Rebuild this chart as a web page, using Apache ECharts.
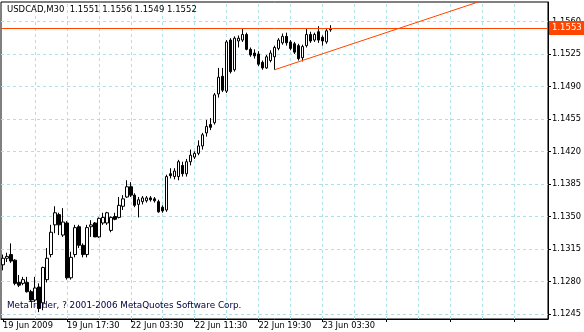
<!DOCTYPE html>
<html><head><meta charset="utf-8">
<script src="https://cdn.jsdelivr.net/npm/echarts@6/dist/echarts.min.js"></script>
<style>html,body{margin:0;padding:0;background:#fff}#c{width:584px;height:332px}</style>
</head><body><div id="c"></div>
<script>
const symbolTitle = 'USDCAD,M30  1.1551 1.1556 1.1549 1.1552';
const copyright = 'MetaTrader, ? 2001-2006 MetaQuotes Software Corp.';
const tickLabels = ['19 Jun 2009','19 Jun 17:30','22 Jun 03:30','22 Jun 11:30','22 Jun 19:30','23 Jun 03:30'];
const tickEvery = 16;
const gridEvery = 8;
const slotCount = 137;
const yTicks = [1.1245,1.1280,1.1315,1.1350,1.1385,1.1420,1.1455,1.1490,1.1525,1.1560];
const yMin = 1.12396, yMax = 1.1581;
const opens  = [1.1298,1.1305,1.1309,1.1303,1.1279,1.1278,1.1279,1.1269,1.1260,1.1274,1.1257,1.1282,1.1309,1.1341,1.1352,1.1330,1.1343,1.1284,1.1309,1.1339,1.1319,1.1309,1.1339,1.1343,1.1328,1.1343,1.1343,1.1335,1.1350,1.1349,1.1361,1.1371,1.1382,1.1373,1.1363,1.1366,1.1367,1.1370,1.1369,1.1366,1.1360,1.1357,1.1396,1.1393,1.1393,1.1405,1.1396,1.1409,1.1414,1.1418,1.1426,1.1440,1.1449,1.1451,1.1482,1.1501,1.1485,1.1540,1.1508,1.1539,1.1540,1.1546,1.1530,1.1526,1.1525,1.1516,1.1510,1.1518,1.1522,1.1531,1.1537,1.1544,1.1538,1.1536,1.1534,1.1521,1.1534,1.1546,1.1540,1.1549,1.1543,1.1538,1.1551];
const closes = [1.1305,1.1307,1.1302,1.1278,1.1276,1.1282,1.1269,1.1260,1.1273,1.1251,1.1295,1.1305,1.1333,1.1354,1.1341,1.1344,1.1284,1.1306,1.1338,1.1319,1.1309,1.1338,1.1341,1.1328,1.1348,1.1349,1.1354,1.1349,1.1347,1.1362,1.1369,1.1382,1.1373,1.1362,1.1368,1.1370,1.1370,1.1368,1.1367,1.1355,1.1356,1.1393,1.1394,1.1399,1.1409,1.1396,1.1409,1.1416,1.1418,1.1426,1.1438,1.1447,1.1446,1.1481,1.1500,1.1486,1.1538,1.1506,1.1542,1.1542,1.1546,1.1530,1.1524,1.1523,1.1514,1.1510,1.1522,1.1526,1.1532,1.1540,1.1544,1.1537,1.1531,1.1527,1.1520,1.1533,1.1546,1.1539,1.1546,1.1540,1.1539,1.1550,1.1552];
const lows   = [1.1292,1.1301,1.1300,1.1276,1.1274,1.1276,1.1268,1.1258,1.1258,1.1247,1.1249,1.1279,1.1306,1.1332,1.1330,1.1328,1.1282,1.1282,1.1306,1.1316,1.1306,1.1306,1.1328,1.1328,1.1327,1.1341,1.1341,1.1333,1.1346,1.1348,1.1357,1.1370,1.1371,1.1360,1.1349,1.1363,1.1365,1.1366,1.1365,1.1354,1.1354,1.1355,1.1391,1.1390,1.1389,1.1393,1.1393,1.1405,1.1412,1.1416,1.1422,1.1436,1.1443,1.1449,1.1478,1.1484,1.1483,1.1504,1.1506,1.1532,1.1538,1.1529,1.1522,1.1520,1.1512,1.1508,1.1509,1.1516,1.1508,1.1529,1.1535,1.1534,1.1529,1.1525,1.1518,1.1517,1.1532,1.1537,1.1538,1.1537,1.1534,1.1536,1.1549];
const highs  = [1.1309,1.1311,1.1321,1.1304,1.1287,1.1285,1.1285,1.1271,1.1285,1.1278,1.1296,1.1316,1.1341,1.1361,1.1354,1.1359,1.1345,1.1312,1.1341,1.1341,1.1321,1.1341,1.1346,1.1344,1.1349,1.1354,1.1355,1.1350,1.1354,1.1371,1.1373,1.1389,1.1387,1.1375,1.1371,1.1372,1.1372,1.1372,1.1371,1.1368,1.1362,1.1395,1.1402,1.1402,1.1411,1.1409,1.1412,1.1422,1.1420,1.1432,1.1440,1.1454,1.1456,1.1483,1.1510,1.1510,1.1540,1.1542,1.1544,1.1545,1.1553,1.1548,1.1532,1.1530,1.1528,1.1518,1.1524,1.1529,1.1534,1.1542,1.1547,1.1548,1.1540,1.1538,1.1536,1.1535,1.1553,1.1549,1.1548,1.1555,1.1545,1.1553,1.1556];
const priceLine = 1.1553;
const trendFrom = [68, 1.1508];
const trendTo = [119, 1.1581];

const FONT = 'DejaVu Sans';
const categories = Array.from({length: slotCount}, (_, i) => String(i));
const candles = opens.map((o, i) => [o, closes[i], lows[i], highs[i]]);
const gridColor = '#b0e0e6';
const vLines = [];
for (let i = gridEvery; i < slotCount - 4; i += gridEvery) vLines.push({xAxis: String(i)});
const hLines = yTicks.map(v => ({yAxis: v}));

const chart = echarts.init(document.getElementById('c'), null, {renderer: 'canvas'});
chart.setOption({
  animation: false,
  backgroundColor: '#ffffff',
  title: [
    {text: symbolTitle, left: 7, top: 5, padding: 0,
     textStyle: {fontFamily: FONT, fontSize: 8.5, fontWeight: 'normal', color: '#000000'}},
    {text: copyright, left: 7, top: 301, padding: 0,
     textStyle: {fontFamily: FONT, fontSize: 8.8, fontWeight: 'normal', color: '#000040'}}
  ],
  grid: {left: 1, right: 35, top: 2, bottom: 13, show: true, borderColor: '#000', borderWidth: 1, backgroundColor: 'transparent'},
  xAxis: {
    type: 'category', data: categories, boundaryGap: true,
    axisLine: {show: true, lineStyle: {color: '#000'}},
    axisTick: {show: true, alignWithLabel: true, length: 3, interval: (i) => i % tickEvery === 0, lineStyle: {color: '#000'}},
    axisLabel: {show: true, interval: (i) => i % tickEvery === 0 && (i / tickEvery) < tickLabels.length,
      formatter: (v, i) => tickLabels[i / tickEvery] || '', align: 'left', margin: 3,
      fontFamily: FONT, fontSize: 8.3, color: '#000'},
    splitLine: {show: false}
  },
  yAxis: {
    type: 'value', position: 'right', min: yMin, max: yMax, scale: true,
    axisLine: {show: true, lineStyle: {color: '#000'}},
    axisTick: {show: true, length: 3, customValues: yTicks, lineStyle: {color: '#000'}},
    axisLabel: {show: true, customValues: yTicks, formatter: v => v.toFixed(4), margin: 4,
      fontFamily: FONT, fontSize: 8.3, color: '#000'},
    splitLine: {show: false}
  },
  series: [
    {type: 'line', name: 'grid', data: [], silent: true, z: 1,
     markLine: {silent: true, symbol: 'none', z: 1, animation: false, precision: 6,
       label: {show: false},
       lineStyle: {color: gridColor, type: [3, 3], width: 1},
       data: hLines.concat(vLines)}},
    {type: 'candlestick', name: 'USDCAD', data: candles, z: 3, barWidth: 3, clip: false,
     itemStyle: {color: '#ffffff', color0: '#000000', borderColor: '#000000', borderColor0: '#000000', borderWidth: 1},
     markLine: {silent: true, symbol: 'none', animation: false, precision: 6,
       lineStyle: {color: '#ff4500', type: 'solid', width: 1},
       label: {show: true, position: 'end', distance: 1, formatter: () => priceLine.toFixed(4),
         backgroundColor: '#ff4500', color: '#ffffff', padding: [3, 4, 2, 3], fontFamily: FONT, fontSize: 8.5},
       data: [{yAxis: priceLine}]}},
    {type: 'line', name: 'trend', data: [trendFrom, trendTo], symbol: 'none', z: 4,
     lineStyle: {color: '#ff4500', width: 1}, clip: true}
  ]
});
</script></body></html>
